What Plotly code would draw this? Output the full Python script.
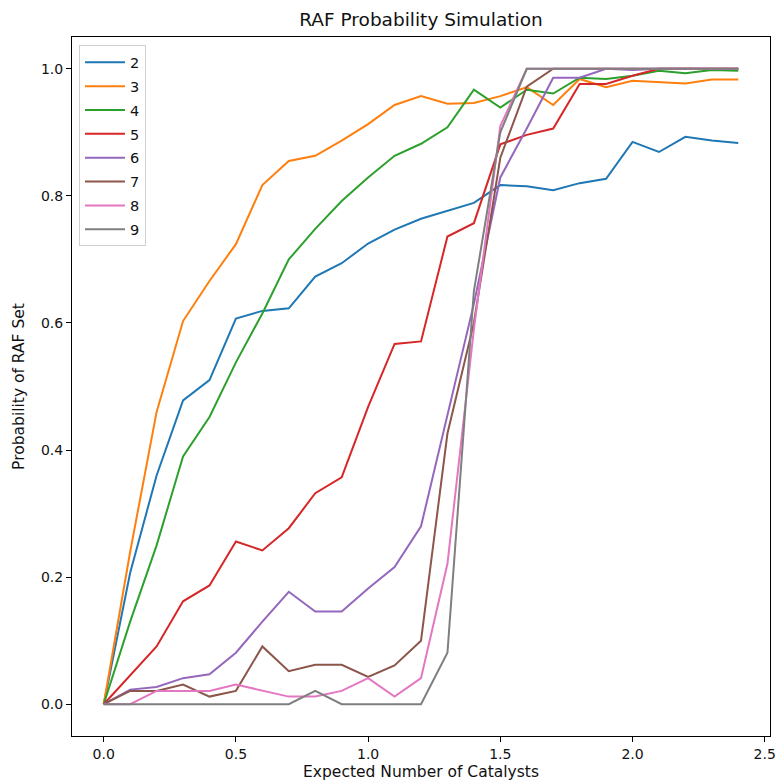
import plotly.graph_objects as go

x_values = [round(0.1 * i, 1) for i in range(25)]

series_names = ["2", "3", "4", "5", "6", "7", "8", "9"]

p2 = [0.0, 0.207, 0.36, 0.478, 0.51, 0.607, 0.619, 0.623, 0.673, 0.694, 0.725, 0.747, 0.764,
      0.776, 0.789, 0.817, 0.815, 0.809, 0.82, 0.827, 0.885, 0.869, 0.893, 0.887, 0.883]
p3 = [0.0, 0.24, 0.46, 0.603, 0.666, 0.724, 0.817, 0.855, 0.863, 0.887, 0.913, 0.943, 0.957,
      0.945, 0.946, 0.957, 0.971, 0.943, 0.984, 0.971, 0.981, 0.979, 0.977, 0.983, 0.983]
p4 = [0.0, 0.13, 0.25, 0.39, 0.452, 0.538, 0.615, 0.70, 0.748, 0.792, 0.829, 0.863, 0.882,
      0.908, 0.967, 0.939, 0.967, 0.961, 0.986, 0.984, 0.989, 0.997, 0.993, 0.998, 0.997]
p5 = [0.0, 0.046, 0.091, 0.162, 0.187, 0.256, 0.242, 0.277, 0.332, 0.357, 0.468, 0.567, 0.571,
      0.736, 0.757, 0.881, 0.896, 0.906, 0.976, 0.976, 0.989, 1.0, 1.0, 1.0, 1.0]
p6 = [0.0, 0.023, 0.027, 0.041, 0.047, 0.081, 0.13, 0.177, 0.146, 0.146, 0.182, 0.216, 0.28,
      0.455, 0.63, 0.829, 0.906, 0.986, 0.986, 1.0, 0.998, 1.0, 1.0, 1.0, 1.0]
p7 = [0.0, 0.021, 0.021, 0.031, 0.012, 0.021, 0.091, 0.052, 0.062, 0.062, 0.043, 0.061, 0.10,
      0.426, 0.60, 0.86, 0.972, 1.0, 1.0, 1.0, 1.0, 1.0, 1.0, 1.0, 1.0]
p8 = [0.0, 0.0, 0.021, 0.021, 0.021, 0.031, 0.021, 0.012, 0.012, 0.021, 0.041, 0.012, 0.041,
      0.221, 0.59, 0.91, 1.0, 1.0, 1.0, 1.0, 1.0, 1.0, 1.0, 1.0, 1.0]
p9 = [0.0, 0.0, 0.0, 0.0, 0.0, 0.0, 0.0, 0.0, 0.021, 0.0, 0.0, 0.0, 0.0,
      0.081, 0.65, 0.90, 1.0, 1.0, 1.0, 1.0, 1.0, 1.0, 1.0, 1.0, 1.0]

all_series = [p2, p3, p4, p5, p6, p7, p8, p9]
colors = ["#1f77b4", "#ff7f0e", "#2ca02c", "#d62728", "#9467bd", "#8c564b", "#e377c2", "#7f7f7f"]

x_ticks = [0.0, 0.5, 1.0, 1.5, 2.0, 2.5]
x_tick_labels = ["0.0", "0.5", "1.0", "1.5", "2.0", "2.5"]
y_ticks = [0.0, 0.2, 0.4, 0.6, 0.8, 1.0]
y_tick_labels = ["0.0", "0.2", "0.4", "0.6", "0.8", "1.0"]

FONT = "DejaVu Sans"

fig = go.Figure()
for name, ys, c in zip(series_names, all_series, colors):
    fig.add_trace(go.Scatter(x=x_values, y=ys, mode="lines", name=name, legendgroup=name,
                             line=dict(color=c, width=2)))

fig.update_layout(
    width=781, height=784,
    margin=dict(l=72, r=5, t=37, b=48),
    paper_bgcolor="white", plot_bgcolor="white",
    font=dict(family=FONT, size=14, color="black"),
    title=dict(text="RAF Probability Simulation", x=0.5, xref="paper",
               y=1 - 20 / 784, yref="container", yanchor="middle",
               font=dict(family=FONT, size=18.5, color="#111111")),
    showlegend=True,
    legend=dict(x=0.01, y=0.988, xanchor="left", yanchor="top",
                bgcolor="white", bordercolor="#d0d0d0", borderwidth=1,
                font=dict(family=FONT, size=14.5, color="#111111"),
                tracegroupgap=2, itemwidth=40),
)

fig.update_xaxes(range=[-0.12, 2.52], tickvals=x_ticks, ticktext=x_tick_labels,
                 showgrid=False, zeroline=False, showline=True, linecolor="black",
                 linewidth=1, mirror=True, ticks="outside", ticklen=5, tickcolor="black",
                 ticklabeloverflow="allow",
                 tickfont=dict(family=FONT, size=14, color="#111111"),
                 title=dict(text="Expected Number of Catalysts", standoff=5,
                            font=dict(family=FONT, size=15.5, color="#111111")))
fig.update_yaxes(range=[-0.05, 1.05], tickvals=y_ticks, ticktext=y_tick_labels,
                 showgrid=False, zeroline=False, showline=True, linecolor="black",
                 linewidth=1, mirror=True, ticks="outside", ticklen=5, tickcolor="black",
                 tickfont=dict(family=FONT, size=14, color="#111111"),
                 title=dict(text="Probability of RAF Set", standoff=12,
                            font=dict(family=FONT, size=15.5, color="#111111")))

fig.write_html("out.html", config={"displayModeBar": False},
               post_script="document.body.style.margin='0';")
